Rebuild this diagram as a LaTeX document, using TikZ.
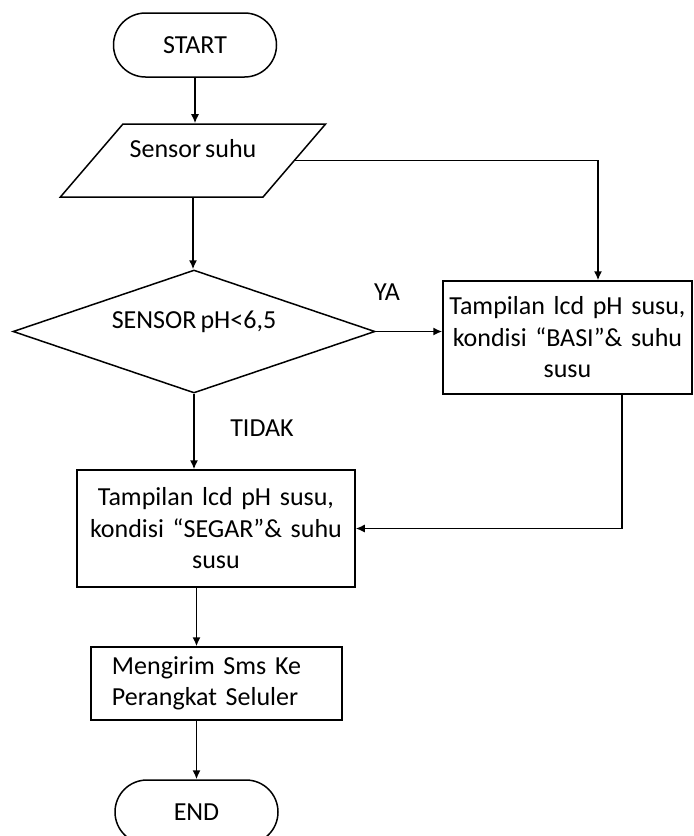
\documentclass[tikz,border=0pt]{standalone}
\usepackage{fontspec}
\setmainfont{Carlito}[WordSpace=0.7]
\usepackage{tikz}
\usetikzlibrary{shapes.geometric, arrows.meta, positioning, calc}

\begin{document}
\begin{tikzpicture}[x=0.5pt, y=-0.5pt,
		every node/.style={font=\fontsize{13}{15.75}\selectfont, text=black},
		garis/.style={line width=0.75pt},
		panah/.style={garis, -{Latex[length=4.5pt, width=4pt]}},
		terminal/.style={draw, garis, rectangle, rounded corners=16pt, minimum width=81.5pt, minimum height=32pt},
		proses/.style={draw, garis, rectangle, align=center, inner sep=0pt},
		masukan/.style={draw, garis, trapezium, trapezium left angle=42, trapezium right angle=138, trapezium stretches=true, minimum width=132pt, minimum height=36.5pt, text height=9pt, text depth=12.5pt},
		keputusan/.style={draw, garis, diamond, aspect=3, minimum width=181pt, minimum height=61.5pt, inner sep=2pt, text height=9pt, text depth=12.5pt}]
		\useasboundingbox (0,0) rectangle (693,836);
		\clip (0,0) rectangle (693,836);
		
		\node[terminal] (mulai) at (195,45) {START};
		\node[masukan] (sensor) at (193,160.5) {Sensor suhu};
		\node[keputusan] (cek) at (194,331.5) {SENSOR pH<6,5};
		\node[proses, minimum width=124.5pt, minimum height=56.5pt, text width=122pt] (basi) at (567.5,337.5) {Tampilan lcd pH susu,\\ kondisi “BASI”\& suhu\\ susu};
		\node[proses, minimum width=139pt, minimum height=58.5pt, text width=134pt] (segar) at (216,528.5) {Tampilan lcd pH susu,\\ kondisi “SEGAR”\& suhu\\ susu};
		\node[proses, minimum width=125.5pt, minimum height=36.5pt, text width=104.5pt, align=left, inner xsep=10.5pt] (sms) at (216.5,683.5) {Mengirim Sms Ke\\ Perangkat Seluler};
		\node[terminal] (selesai) at (196.5,812) {END};
		
		\node (ya) at (387,292) {YA};
		\node (tidak) at (262,428) {TIDAK};
		
		\draw[panah] (mulai.south) -- (mulai.south |- sensor.north);
		\draw[panah] (sensor.south) -- (sensor.south |- cek.north);
		\draw[panah] (sensor.east) -| ([xshift=15.25pt]basi.north);
		\draw[panah] (cek.east) -- (cek.east -| basi.west);
		\draw[panah] (cek.south) -- (cek.south |- segar.north);
		\draw[panah] ([xshift=27.25pt]basi.south) |- (segar.east);
		\draw[panah] (segar.south -| selesai.north) -- (sms.north -| selesai.north);
		\draw[panah] (sms.south -| selesai.north) -- (selesai.north);
\end{tikzpicture}
\end{document}
